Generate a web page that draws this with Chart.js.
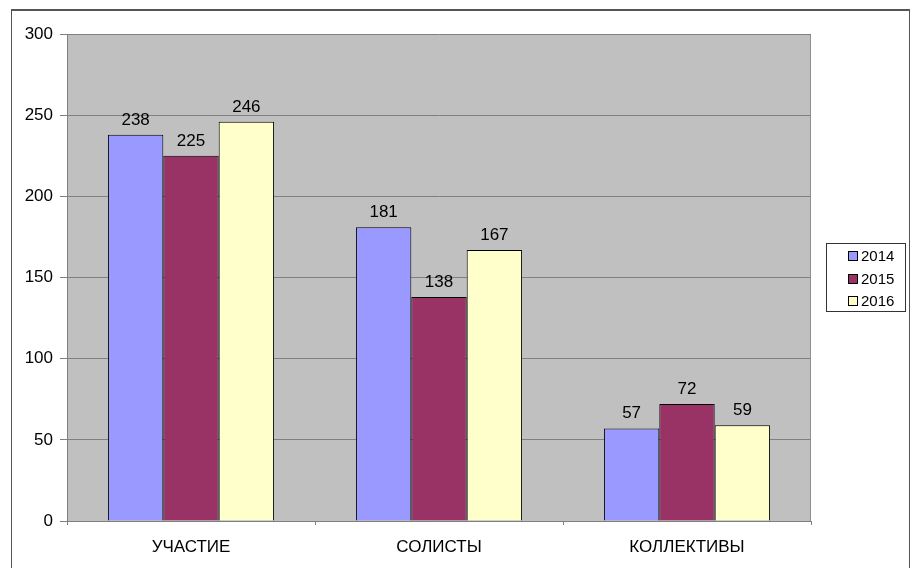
<!DOCTYPE html>
<html lang="ru">
<head>
<meta charset="UTF-8">
<title>Участие</title>
<script src="https://cdn.jsdelivr.net/npm/chart.js"></script>
<style>
    body {
        margin: 0;
        background: #fff;
        font-family: 'Liberation Sans', Arial, sans-serif;
        overflow: hidden;
    }
    .frame {
        position: absolute;
        left: 11px;
        top: 9px;
        width: 897px;
        height: 570px;
        border: 1px solid #555;
        border-top: 2px solid #555;
        background: #fff;
    }
</style>
</head>
<body>
<div class="frame">
    <canvas id="chart" width="897" height="558"></canvas>
</div>
<script>
    const categories = ['УЧАСТИЕ', 'СОЛИСТЫ', 'КОЛЛЕКТИВЫ'];
    const years = ['2014', '2015', '2016'];
    const values2014 = [238, 181, 57];
    const values2015 = [225, 138, 72];
    const values2016 = [246, 167, 59];
    const yTicks = [0, 50, 100, 150, 200, 250, 300];

    const fills = ['#9999ff', '#993366', '#ffffcc'];
    const font = "'Liberation Sans', Arial, sans-serif";

    // gray plot area
    const plotBg = {
        id: 'plotBg',
        beforeDraw(chart) {
            const a = chart.chartArea, ctx = chart.ctx;
            ctx.save();
            ctx.fillStyle = '#c0c0c0';
            ctx.fillRect(a.left, a.top, a.right - a.left, a.bottom - a.top);
            ctx.strokeStyle = '#909090';
            ctx.strokeRect(a.right - 0.5, a.top, 0, a.bottom - a.top);
            ctx.restore();
        }
    };

    // numbers above the bars
    const valueLabels = {
        id: 'valueLabels',
        afterDatasetsDraw(chart) {
            const ctx = chart.ctx;
            ctx.save();
            ctx.font = '17px ' + font;
            ctx.fillStyle = '#000';
            ctx.textAlign = 'center';
            ctx.textBaseline = 'alphabetic';
            chart.data.datasets.forEach((ds, i) => {
                chart.getDatasetMeta(i).data.forEach((bar, j) => {
                    ctx.fillText(ds.data[j], bar.x, bar.y - 10);
                });
            });
            ctx.restore();
        }
    };

    // boxed legend on the right
    const boxLegend = {
        id: 'boxLegend',
        afterDraw(chart) {
            const ctx = chart.ctx;
            const x = chart.chartArea.right + 15, y = 232, w = 79, h = 68;
            ctx.save();
            ctx.strokeStyle = '#333';
            ctx.lineWidth = 1;
            ctx.strokeRect(x + 0.5, y + 0.5, w, h);
            ctx.font = '15px ' + font;
            ctx.textBaseline = 'middle';
            chart.data.datasets.forEach((ds, i) => {
                const cy = Math.round(y + 13 + i * 22.5);
                ctx.fillStyle = ds.backgroundColor;
                ctx.fillRect(x + 22, cy - 5, 10, 10);
                ctx.strokeStyle = '#000';
                ctx.strokeRect(x + 22.5, cy - 4.5, 9, 9);
                ctx.fillStyle = '#000';
                ctx.fillText(ds.label, x + 35, cy + 1);
            });
            ctx.restore();
        }
    };

    const ctx = document.getElementById('chart').getContext('2d');
    new Chart(ctx, {
        type: 'bar',
        data: {
            labels: categories,
            datasets: [
                { label: years[0], data: values2014, backgroundColor: fills[0] },
                { label: years[1], data: values2015, backgroundColor: fills[1] },
                { label: years[2], data: values2016, backgroundColor: fills[2] }
            ]
        },
        options: {
            responsive: false,
            animation: false,
            layout: { padding: { top: 23, right: 98, left: 0, bottom: 0 } },
            datasets: {
                bar: {
                    borderColor: '#000',
                    borderWidth: 1,
                    categoryPercentage: 0.67,
                    barPercentage: 1
                }
            },
            plugins: {
                legend: { display: false },
                tooltip: { enabled: false }
            },
            scales: {
                x: {
                    grid: { display: true, drawOnChartArea: false, color: '#808080', tickLength: 4 },
                    border: { color: '#808080' },
                    ticks: { color: '#000', font: { family: font, size: 17 }, padding: 12 },
                    afterFit(s) { s.height = 48; }
                },
                y: {
                    min: 0,
                    max: 300,
                    afterBuildTicks(s) { s.ticks = yTicks.map(v => ({ value: v })); },
                    grid: { color: '#808080', tickLength: 7 },
                    border: { color: '#808080' },
                    ticks: { color: '#000', font: { family: font, size: 17 }, padding: 7 },
                    afterFit(s) { s.width = 55; }
                }
            }
        },
        plugins: [plotBg, valueLabels, boxLegend]
    });
</script>
</body>
</html>
